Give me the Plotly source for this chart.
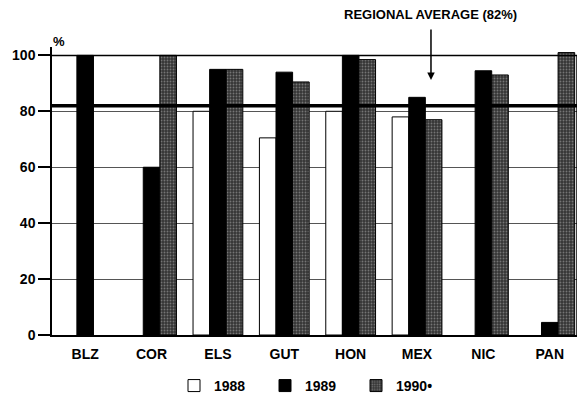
import plotly.graph_objects as go

countries = ["BLZ", "COR", "ELS", "GUT", "HON", "MEX", "NIC", "PAN"]
v1988 = [None, None, 80, 70.5, 80, 78, None, None]
v1989 = [100, 60, 95, 94, 100, 85, 94.5, 4.5]
v1990 = [None, 100, 95, 90.5, 98.5, 77, 93, 101]
regional_average = 82
y_ticks = [0, 20, 40, 60, 80, 100]

FONT = "Liberation Sans, Arial, sans-serif"

# page body has an 8px default margin: figure sized to fit window exactly
fig = go.Figure()
fig.add_trace(go.Bar(name="1988", x=countries, y=v1988,
                     marker=dict(color="white", line=dict(color="black", width=1))))
fig.add_trace(go.Bar(name="1989", x=countries, y=v1989,
                     marker=dict(color="black", line=dict(color="black", width=1))))
fig.add_trace(go.Bar(name="1990•", x=countries, y=v1990,
                     marker=dict(color="#353535", line=dict(color="black", width=1),
                                 pattern=dict(shape=".", bgcolor="#353535", fgcolor="#b5b5b5",
                                              size=3, solidity=0.3))))

fig.update_layout(
    width=577, height=394,
    margin=dict(l=44, r=8, t=39, b=67, autoexpand=False),
    paper_bgcolor="white", plot_bgcolor="white",
    barmode="group", bargap=0.25, bargroupgap=0,
    font=dict(family=FONT, size=14, color="black", weight="bold"),
    showlegend=True,
    legend=dict(orientation="h", x=0.2324, xanchor="left", y=-0.177, yanchor="middle",
                font=dict(size=14, weight="bold"), entrywidth=46, entrywidthmode="pixels",
                bgcolor="rgba(0,0,0,0)"),
    xaxis=dict(range=[-0.5, 7.41], showline=True, linecolor="black", linewidth=1.5,
               showgrid=False, ticks="", ticklabelstandoff=5, automargin=False,
               tickfont=dict(size=14, weight="bold")),
    yaxis=dict(range=[0, 103], tickvals=y_ticks, ticktext=[str(t) for t in y_ticks],
               showline=True, linecolor="black", linewidth=1.5, automargin=False,
               ticks="outside", ticklen=12, tickcolor="black", tickwidth=1.5,
               showgrid=True, gridcolor="#555", gridwidth=1, zeroline=False,
               tickfont=dict(size=14, weight="bold")),
)

# frame top and right
fig.add_shape(type="line", xref="paper", yref="y", x0=0, x1=1, y0=100, y1=100,
              line=dict(color="black", width=1.5), layer="above")
fig.add_shape(type="line", xref="paper", yref="y", x0=1, x1=1, y0=0, y1=100,
              line=dict(color="black", width=1.5), layer="above")
# regional average line
fig.add_shape(type="line", xref="paper", yref="y", x0=0, x1=1,
              y0=regional_average, y1=regional_average,
              line=dict(color="black", width=3.5), layer="above")

fig.add_annotation(text="%", xref="paper", yref="paper", x=(58.5 - 52) / 525, y=(335 - 42) / 288,
                   xanchor="center", yanchor="middle", showarrow=False,
                   font=dict(size=13, weight="bold"))
fig.add_annotation(text=f"REGIONAL AVERAGE ({regional_average}%)", xref="paper", yref="paper",
                   x=(430 - 52) / 525, y=(335 - 15) / 288, xanchor="center", yanchor="middle",
                   showarrow=False, font=dict(size=13, weight="bold"))
fig.add_annotation(text="", xref="x", yref="y", x=5.21, y=91.2, ax=0, ay=-52,
                   showarrow=True, arrowhead=2, arrowsize=1, arrowwidth=1.5, arrowcolor="black")

fig.write_html("out.html")
